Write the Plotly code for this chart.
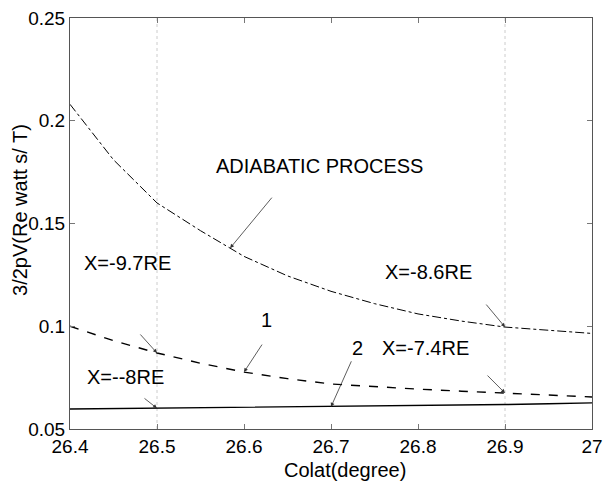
import plotly.graph_objects as go

colat = [26.40, 26.45, 26.50, 26.55, 26.60, 26.65, 26.70, 26.75, 26.80, 26.85, 26.90, 26.95, 27.00]
adiabatic = [0.208, 0.181, 0.160, 0.1465, 0.134, 0.1245, 0.117, 0.111, 0.106, 0.1025, 0.0996, 0.098, 0.0965]
curve1 = [0.100, 0.093, 0.087, 0.082, 0.0777, 0.0745, 0.0719, 0.0705, 0.0694, 0.0684, 0.0675, 0.0664, 0.0656]
curve2 = [0.0597, 0.0599, 0.0601, 0.0602, 0.0604, 0.0606, 0.0608, 0.0610, 0.0613, 0.0616, 0.0619, 0.0623, 0.0627]

x_ticks = [26.4, 26.5, 26.6, 26.7, 26.8, 26.9, 27.0]
x_tick_text = ["26.4", "26.5", "26.6", "26.7", "26.8", "26.9", "27"]
y_ticks = [0.05, 0.1, 0.15, 0.2, 0.25]
y_tick_text = ["0.05", "0.1", "0.15", "0.2", "0.25"]
grid_x = [26.5, 26.9]

FONT = "Liberation Sans, Arial, sans-serif"

fig = go.Figure()
fig.add_trace(go.Scatter(x=colat, y=adiabatic, mode="lines",
                         line=dict(color="black", width=1, dash="dashdot"), showlegend=False))
fig.add_trace(go.Scatter(x=colat, y=curve1, mode="lines",
                         line=dict(color="black", width=1.4, dash="dash"), showlegend=False))
fig.add_trace(go.Scatter(x=colat, y=curve2, mode="lines",
                         line=dict(color="black", width=1.4), showlegend=False))

for gx in grid_x:
    fig.add_shape(type="line", xref="x", yref="paper", x0=gx, x1=gx, y0=0, y1=1,
                  line=dict(color="#cccccc", width=1, dash="dot"), layer="below")

def val(arr, xv):
    return arr[colat.index(xv)]

arrow_style = dict(showarrow=True, arrowhead=2, arrowsize=1, arrowwidth=0.8,
                   arrowcolor="#333333", axref="pixel", ayref="pixel", text="")
arrows = [
    (26.584, 0.138, 43, -52),
    (26.9, val(adiabatic, 26.9), -20, -24),
    (26.6, val(curve1, 26.6), 19, -29),
    (26.5, val(curve1, 26.5), -18, -20),
    (26.9, val(curve1, 26.9), -19, -19),
    (26.7, val(curve2, 26.7), 21, -47),
    (26.5, val(curve2, 26.5), -14, -11),
]
for ax_, ay_, dx, dy in arrows:
    fig.add_annotation(x=ax_, y=ay_, ax=dx, ay=dy, **arrow_style)

labels = [
    ("ADIABATIC PROCESS", 26.687, 0.178, "center"),
    ("X=-9.7RE", 26.414, 0.1308, "left"),
    ("X=-8.6RE", 26.760, 0.1264, "left"),
    ("1", 26.626, 0.103, "center"),
    ("2", 26.731, 0.0894, "center"),
    ("X=-7.4RE", 26.756, 0.0894, "left"),
    ("X=--8RE", 26.417, 0.0753, "left"),
]
for txt, lx, ly, anc in labels:
    fig.add_annotation(x=lx, y=ly, text=txt, showarrow=False, xanchor=anc, yanchor="middle",
                       font=dict(family=FONT, size=20, color="black"))

# axis titles
fig.add_annotation(xref="paper", yref="paper", x=0.527, y=-0.0998, text="Colat(degree)",
                   showarrow=False, xanchor="center", yanchor="middle",
                   font=dict(family=FONT, size=20, color="black"))
fig.add_annotation(xref="paper", yref="paper", x=-0.0958, y=0.533, text="3/2pV(Re watt s/ T)",
                   showarrow=False, xanchor="center", yanchor="middle", textangle=-90,
                   font=dict(family=FONT, size=20, color="black"))

axis_common = dict(showgrid=False, zeroline=False, ticks="inside", ticklen=5,
                   tickcolor="#777777", linecolor="#555555", linewidth=1, mirror="ticks",
                   showline=True, automargin=False,
                   tickfont=dict(family=FONT, size=19, color="black"))
fig.update_xaxes(range=[26.4, 27.0], tickvals=x_ticks, ticktext=x_tick_text, **axis_common)
fig.update_yaxes(range=[0.05, 0.25], tickvals=y_ticks, ticktext=y_tick_text, **axis_common)

fig.update_layout(width=603, height=481, margin=dict(l=70, r=11, t=18, b=52),
                  plot_bgcolor="white", paper_bgcolor="white")

fig.write_html("out.html", config={"displayModeBar": False},
               post_script="document.body.style.margin='0';document.body.style.overflow='hidden';")
